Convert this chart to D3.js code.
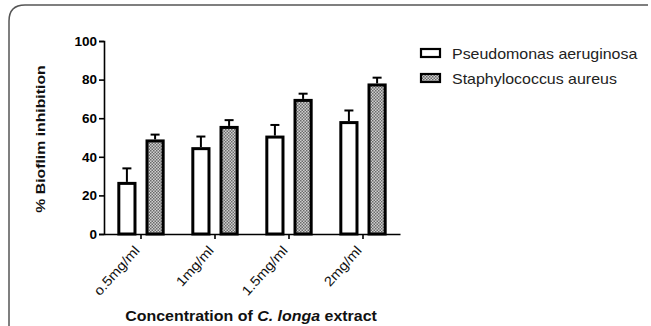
<!DOCTYPE html>
<html>
<head>
<meta charset="utf-8">
<script src="https://cdn.jsdelivr.net/npm/d3@7"></script>
<style>
  body { margin: 0; background: #fff; }
  svg { display: block; font-family: Arial, "Liberation Sans", sans-serif; }
</style>
</head>
<body>
<svg id="chart" width="651" height="326"></svg>
<script>
// data
var categories = ['o.5mg/ml', '1mg/ml', '1.5mg/ml', '2mg/ml'];
var seriesNames = ['Pseudomonas aeruginosa', 'Staphylococcus aureus'];
var pseudomonas = [27, 45, 51, 58.5];
var pseudomonasErr = [7, 5.5, 5.5, 5.5];
var staph = [49, 56, 70, 78];
var staphErr = [2.5, 3, 2.7, 3];
var yTicks = [0, 20, 40, 60, 80, 100];

var svg = d3.select('#chart');

// frame
svg.append('path')
  .attr('d', 'M9,330V21Q9,5,25,5H648')
  .attr('fill', 'none')
  .attr('stroke', '#555')
  .attr('stroke-width', 1.5);

// hatch pattern
var pat = svg.append('defs').append('pattern')
  .attr('id', 'chk')
  .attr('width', 3).attr('height', 3)
  .attr('patternUnits', 'userSpaceOnUse');
pat.append('rect').attr('width', 3).attr('height', 3).attr('fill', '#d0d0d0');
pat.append('rect').attr('width', 1.5).attr('height', 1.5).attr('fill', '#6a6a6a');
pat.append('rect').attr('x', 1.5).attr('y', 1.5).attr('width', 1.5).attr('height', 1.5).attr('fill', '#6a6a6a');

var x0 = d3.scaleBand().domain(categories).range([104, 400]).paddingInner(0.36).paddingOuter(0.18);
var x1 = d3.scaleBand().domain(seriesNames).range([0, x0.bandwidth()]).paddingInner(0.32);
var y = d3.scaleLinear().domain([0, 100]).range([234, 41]);

var rows = categories.map(function(c, i) {
  return [
    {cat: c, s: seriesNames[0], v: pseudomonas[i], e: pseudomonasErr[i], fill: '#fff'},
    {cat: c, s: seriesNames[1], v: staph[i], e: staphErr[i], fill: 'url(#chk)'}
  ];
});
var bars = d3.merge(rows);

// error bars (behind the bars)
var err = svg.append('g').selectAll('g').data(bars).enter().append('g')
  .attr('stroke', '#000').attr('stroke-width', 2);
err.append('line')
  .attr('x1', function(d) { return x0(d.cat) + x1(d.s) + x1.bandwidth() / 2; })
  .attr('x2', function(d) { return x0(d.cat) + x1(d.s) + x1.bandwidth() / 2; })
  .attr('y1', function(d) { return y(d.v); })
  .attr('y2', function(d) { return y(d.v + d.e); });
err.append('line')
  .attr('x1', function(d) { return x0(d.cat) + x1(d.s) + x1.bandwidth() / 2 - 4.5; })
  .attr('x2', function(d) { return x0(d.cat) + x1(d.s) + x1.bandwidth() / 2 + 4.5; })
  .attr('y1', function(d) { return y(d.v + d.e); })
  .attr('y2', function(d) { return y(d.v + d.e); });

// bars
svg.append('g').selectAll('rect').data(bars).enter().append('rect')
  .attr('x', function(d) { return x0(d.cat) + x1(d.s) + 1.5; })
  .attr('y', function(d) { return y(d.v) + 1.5; })
  .attr('width', x1.bandwidth() - 3)
  .attr('height', function(d) { return y(0) - y(d.v) - 1.5; })
  .attr('fill', function(d) { return d.fill; })
  .attr('stroke', '#000')
  .attr('stroke-width', 3);

// y axis
var yAxis = svg.append('g')
  .attr('transform', 'translate(104,0)')
  .call(d3.axisLeft(y).tickValues(yTicks).tickSize(5).tickPadding(2));
yAxis.select('.domain').attr('stroke-width', 1.6);
yAxis.selectAll('.tick line').attr('stroke-width', 1.6);
yAxis.selectAll('text').attr('font-size', 13.5).attr('font-weight', 'bold')
  .attr('font-family', 'Arial, "Liberation Sans", sans-serif').attr('fill', '#000');

// x axis
var xAxis = svg.append('g')
  .attr('transform', 'translate(0,234)')
  .call(d3.axisBottom(x0).tickSize(5).tickSizeOuter(0));
xAxis.select('.domain').attr('stroke-width', 1.6);
xAxis.selectAll('.tick line').attr('stroke-width', 1.6);
xAxis.selectAll('text')
  .attr('font-size', 13.5)
  .attr('font-family', 'Arial, "Liberation Sans", sans-serif')
  .attr('fill', '#111')
  .attr('text-anchor', 'end')
  .attr('y', 0)
  .attr('dy', '0.35em')
  .attr('transform', 'translate(-4,14) rotate(-48) scale(1.1,1)');

// axis titles
svg.append('text')
  .attr('transform', 'translate(45,139) rotate(-90) scale(1.17,1)')
  .attr('text-anchor', 'middle')
  .attr('font-size', 13.5).attr('font-weight', 'bold')
  .attr('fill', '#111')
  .text('% Bioflim inhibition');

var xt = svg.append('text')
  .attr('transform', 'translate(251,321) scale(1.14,1)')
  .attr('text-anchor', 'middle')
  .attr('font-size', 14).attr('font-weight', 'bold')
  .attr('fill', '#111');
xt.append('tspan').text('Concentration of ');
xt.append('tspan').attr('font-style', 'italic').text('C. longa');
xt.append('tspan').text(' extract');

// legend
var leg = svg.append('g').selectAll('g').data(seriesNames).enter().append('g')
  .attr('transform', function(d, i) { return 'translate(420,' + (48 + i * 25) + ')'; });
leg.append('rect')
  .attr('x', 1).attr('y', 1).attr('width', 19).attr('height', 8)
  .attr('fill', function(d, i) { return i === 0 ? '#fff' : 'url(#chk)'; })
  .attr('stroke', '#000').attr('stroke-width', 2.2);
leg.append('text')
  .attr('transform', 'translate(32,10.5) scale(1.14,1)')
  .attr('font-size', 14)
  .attr('fill', '#222')
  .text(function(d) { return d; });
</script>
</body>
</html>
